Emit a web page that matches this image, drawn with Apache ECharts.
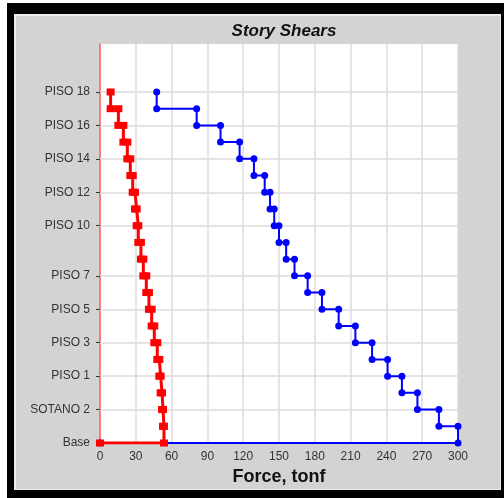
<!DOCTYPE html>
<html>
<head>
<meta charset="utf-8">
<script src="https://cdn.jsdelivr.net/npm/echarts@6/dist/echarts.min.js"></script>
<style>
html,body{margin:0;padding:0;background:#fff;}
#chart{width:504px;height:498px;}
</style>
</head>
<body>
<div id="chart"></div>
<script>
// Levels from Base (index 0) up to PISO 18 (index 21)
const levelNames = ['Base','SOTANO 3','SOTANO 2','SOTANO 1','PISO 1','PISO 2','PISO 3','PISO 4','PISO 5','PISO 6','PISO 7','PISO 8','PISO 9','PISO 10','PISO 11','PISO 12','PISO 13','PISO 14','PISO 15','PISO 16','PISO 17','PISO 18'];
const labeledLevels = ['Base','SOTANO 2','PISO 1','PISO 3','PISO 5','PISO 7','PISO 10','PISO 12','PISO 14','PISO 16','PISO 18'];
const xTicks = [0,30,60,90,120,150,180,210,240,270,300];
// Story shears from bottom story to top story (tonf)
const blueShear = [300,284,266,253,241,228,214,200,186,174,163,156,150,146,142.5,138,129,117,101,81,47.5];
const redShear = [53.6,52.8,52,50.8,49.7,48,45.5,43.3,41,38.8,36.3,34.3,32.1,30.7,29.3,27.4,25.4,22.9,19.6,15.4,8.9];

function stairs(v){
  const pts=[[0,0]];
  for(let i=0;i<v.length;i++){ pts.push([v[i],i]); pts.push([v[i],i+1]); }
  return pts;
}
const labeledIdx = labeledLevels.map(n=>levelNames.indexOf(n));

const chart = echarts.init(document.getElementById('chart'));
chart.setOption({
  animation:false,
  backgroundColor:'#ffffff',
  graphic:[
    {type:'rect',left:7,top:3,shape:{width:497,height:495},style:{fill:'#000'},z:-10},
    {type:'rect',left:14,top:14,shape:{width:487,height:476},style:{fill:'#ececec'},z:-9},
    {type:'rect',left:16,top:16,shape:{width:484,height:473},style:{fill:'#d3d3d3'},z:-8}
  ],
  title:{text:'Story Shears',left:279,top:18,textAlign:'center',
    textStyle:{fontFamily:'Liberation Sans',fontStyle:'italic',fontWeight:'bold',fontSize:17,color:'#111'}},
  grid:{left:100,right:46,top:44,bottom:55,show:true,backgroundColor:'#fff',borderWidth:0},
  xAxis:{type:'value',min:0,max:300,interval:30,
    name:'Force, tonf',nameLocation:'middle',nameGap:19,
    nameTextStyle:{fontFamily:'Liberation Sans',fontWeight:'bold',fontSize:18,color:'#111'},
    axisLine:{show:false},axisTick:{show:false},
    axisLabel:{fontFamily:'Liberation Sans',fontSize:12,color:'#333',margin:8},
    splitLine:{show:true,lineStyle:{color:'#dcdcdc',width:1.5}}},
  yAxis:{type:'value',min:0,max:23.87,
    axisLine:{show:true,onZero:false,lineStyle:{color:'#ff5a5a',width:1.5}},
    axisTick:{show:true,length:4,customValues:labeledIdx,lineStyle:{color:'#333'}},
    axisLabel:{customValues:labeledIdx,fontFamily:'Liberation Sans',fontSize:12,color:'#333',margin:10,
      formatter:v=>levelNames[Math.round(v)]},
    splitLine:{show:false}},
  series:[
    {type:'line',data:[],silent:true,z:1,
      markLine:{silent:true,symbol:'none',z:1,label:{show:false},
        lineStyle:{color:'#dcdcdc',width:1.5,type:'solid'},
        data:labeledIdx.filter(i=>i>0).map(i=>({yAxis:i}))}},
    {type:'line',data:stairs(blueShear),symbol:'circle',symbolSize:7,
      lineStyle:{color:'#0000ff',width:2},itemStyle:{color:'#0000ff'},z:3},
    {type:'line',data:stairs(redShear),symbol:'rect',symbolSize:[8,7],
      lineStyle:{color:'#ff0000',width:3},itemStyle:{color:'#ff0000'},z:4}
  ]
});
</script>
</body>
</html>
